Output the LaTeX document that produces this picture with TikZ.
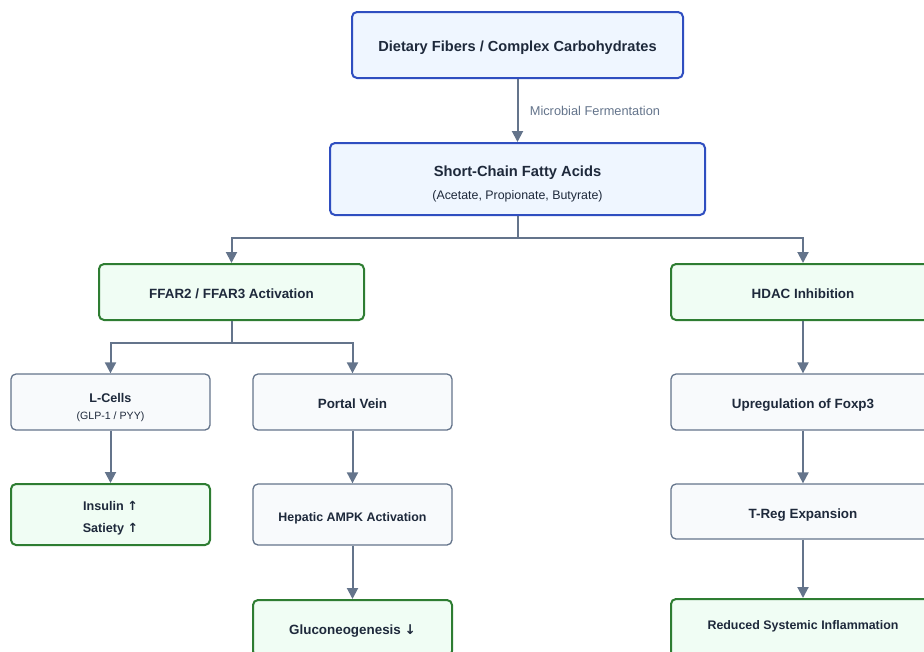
\documentclass[tikz,border=0pt]{standalone}
\usepackage{fontspec}
\setmainfont{Liberation Sans}
\newfontfamily\symfont{DejaVu Sans}
\usetikzlibrary{arrows.meta}

\definecolor{blueFill}{HTML}{EFF6FF}
\definecolor{blueLine}{HTML}{2F4EC0}
\definecolor{greenFill}{HTML}{F0FDF4}
\definecolor{greenLine}{HTML}{2E7D32}
\definecolor{grayFill}{HTML}{F8FAFC}
\definecolor{grayLine}{HTML}{64748B}
\definecolor{ink}{HTML}{1E293B}
\definecolor{wire}{HTML}{64748B}

\newcommand{\up}{{\symfont\char"2191}}
\newcommand{\down}{{\symfont\char"2193}}
\newcommand{\fs}[1]{\fontsize{#1}{#1}\selectfont}

\tikzset{
  box/.style={rectangle, rounded corners=5pt, inner sep=0pt, align=center,
              text=ink, font=\bfseries\fs{13.4}},
  bluebox/.style={box, draw=blueLine, fill=blueFill, line width=2pt},
  greenbox/.style={box, draw=greenLine, fill=greenFill, line width=2pt},
  graybox/.style={box, draw=grayLine, fill=grayFill, line width=1.3pt},
  capline/.style={text height=13pt, text depth=0pt},
  wireline/.style={draw=wire, line width=2pt},
  arrow/.style={wireline, -{Triangle[length=11pt,width=11pt]}},
  edgelabel/.style={font=\fs{12.8}, text=wire}
}

\begin{document}
\begin{tikzpicture}[x=1pt, y=-1pt]
\useasboundingbox (0,0) rectangle (924,651);

% top of the pathway
\node[bluebox, capline, minimum width=331, minimum height=66] (fiber) at (517.5,45)
  {\fs{14.6}Dietary Fibers / Complex Carbohydrates};
\node[bluebox, minimum width=375, minimum height=72] (scfa) at (517.5,179)
  {\rule{0pt}{21pt}\fs{14.7}Short-Chain Fatty Acids\\[10pt]
   {\mdseries\fs{12.4}(Acetate, Propionate, Butyrate)}};

% receptor branch
\node[greenbox, capline, minimum width=265, minimum height=56] (ffar) at (231.5,292)
  {FFAR2 / FFAR3 Activation};
\node[graybox, font=\bfseries\fs{12.6}, minimum width=199, minimum height=56] (lcell) at (110.5,402)
  {\rule{0pt}{20pt}L-Cells\\[5pt]{\mdseries\fs{10.6}(GLP-1 / PYY)}};
\node[graybox, capline, minimum width=199, minimum height=56] (portal) at (352.5,402)
  {Portal Vein};
\node[greenbox, font=\bfseries\fs{12.6}, minimum width=199, minimum height=61] (insulin) at (110.5,514.5)
  {\rule{0pt}{17pt}Insulin \up\\[9pt]Satiety \up};
\node[graybox, capline, minimum width=199, minimum height=61] (ampk) at (352.5,514.5)
  {\fs{12.4}Hepatic AMPK Activation};
\node[greenbox, capline, minimum width=199, minimum height=56] (gluco) at (352.5,628)
  {Gluconeogenesis \down};

% epigenetic branch
\node[greenbox, capline, minimum width=264, minimum height=56] (hdac) at (803,292)
  {HDAC Inhibition};
\node[graybox, capline, minimum width=264, minimum height=56] (foxp) at (803,402)
  {Upregulation of Foxp3};
\node[graybox, capline, minimum width=264, minimum height=55] (treg) at (803,511.5)
  {T-Reg Expansion};
\node[greenbox, text height=9pt, text depth=9pt, minimum width=264, minimum height=60] (inflam) at (803,629)
  {\fs{12.4}Reduced Systemic Inflammation};

% connectors
\draw[arrow] (fiber) -- node[edgelabel, anchor=west, xshift=8pt] {Microbial Fermentation} (scfa);
\coordinate (split1) at ([yshift=-22pt]scfa.south);
\draw[wireline] (scfa.south) -- (split1);
\draw[arrow] (split1) -| (ffar.north);
\draw[arrow] (split1) -| (hdac.north);

\coordinate (split2) at ([yshift=-22pt]ffar.south);
\draw[wireline] (ffar.south) -- (split2);
\draw[arrow] (split2) -| (lcell.north);
\draw[arrow] (split2) -| (portal.north);

\draw[arrow] (lcell) -- (insulin);
\draw[arrow] (portal) -- (ampk);
\draw[arrow] (ampk) -- (gluco);
\draw[arrow] (hdac) -- (foxp);
\draw[arrow] (foxp) -- (treg);
\draw[arrow] (treg) -- (inflam);
\end{tikzpicture}
\end{document}
